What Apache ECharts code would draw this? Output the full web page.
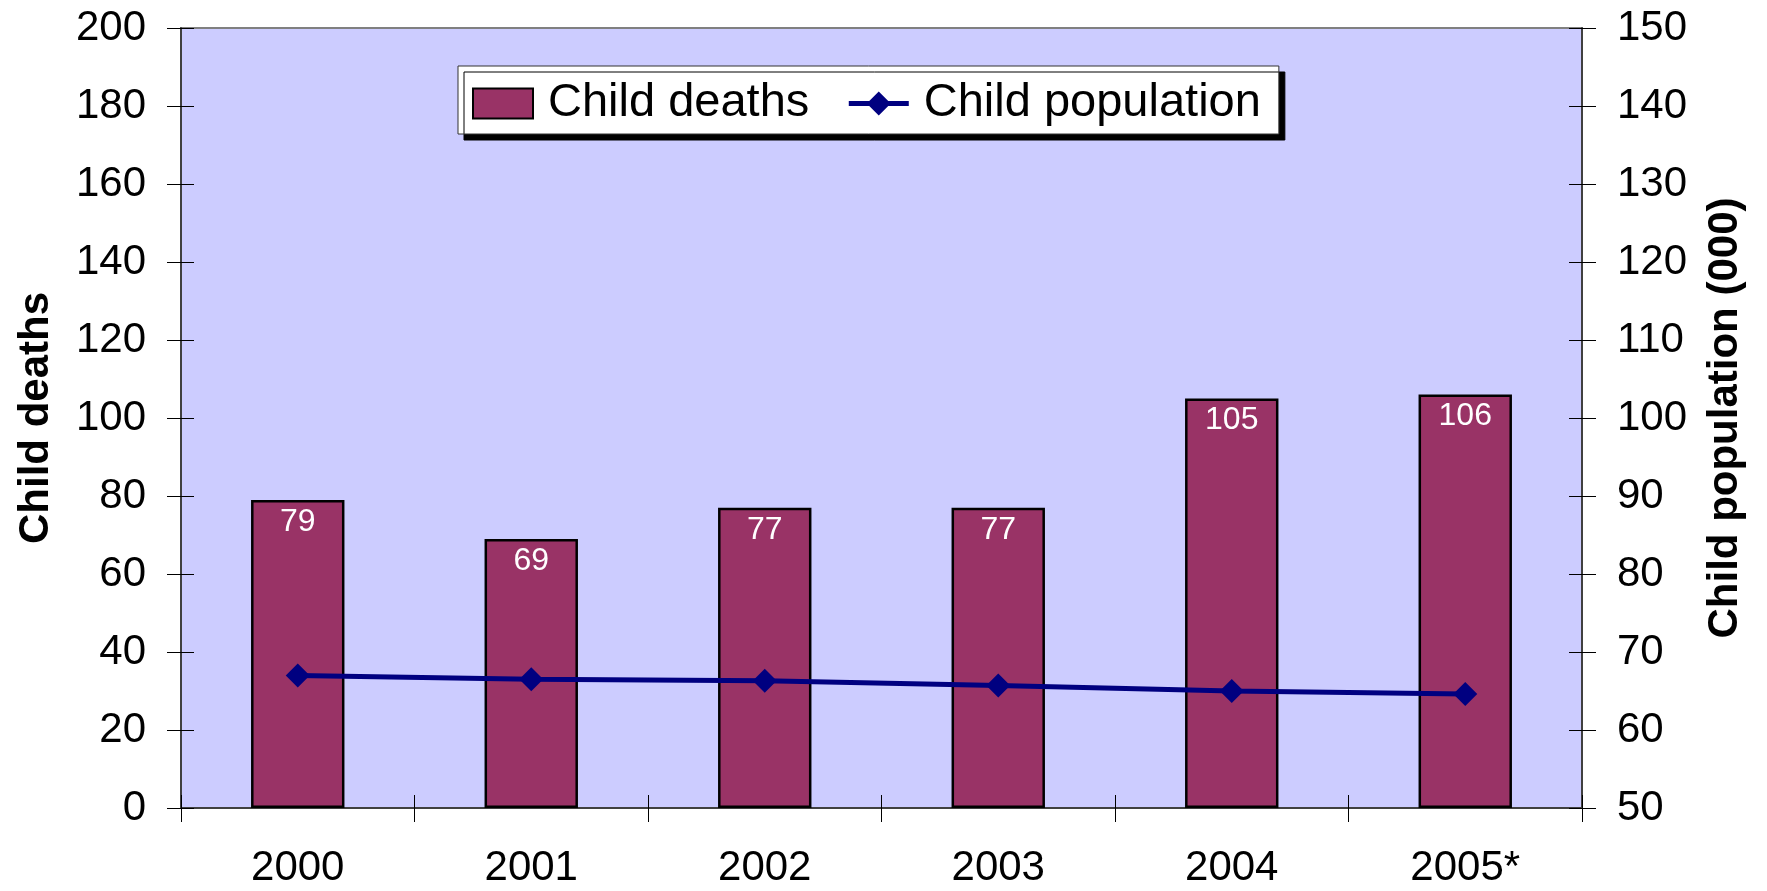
<!DOCTYPE html>
<html>
<head>
<meta charset="utf-8">
<script src="https://cdn.jsdelivr.net/npm/echarts@6/dist/echarts.min.js"></script>
<style>
html,body{margin:0;padding:0;background:#fff;}
#chart{width:1767px;height:891px;}
</style>
</head>
<body>
<div id="chart"></div>
<script>
const years = ['2000', '2001', '2002', '2003', '2004', '2005*'];
const childDeaths = [79, 69, 77, 77, 105, 106];
const childPopulation = [67.0, 66.5, 66.3, 65.7, 65.0, 64.6];
const leftTicks = { min: 0, max: 200, interval: 20 };
const rightTicks = { min: 50, max: 150, interval: 10 };

const FONT = '"Liberation Sans", Arial, sans-serif';
const axisLineColor = '#404040';

const chart = echarts.init(document.getElementById('chart'), null, { renderer: 'canvas' });

const option = {
  backgroundColor: '#ffffff',
  animation: false,
  textStyle: { fontFamily: FONT },
  grid: {
    left: 181, right: 185, top: 28, bottom: 83,
    show: true, backgroundColor: '#CCCCFF', borderColor: '#808080', borderWidth: 2
  },
  legend: {
    left: 458, top: 66,
    padding: [14, 18, 7, 14],
    itemGap: 37,
    itemWidth: 60, itemHeight: 30,
    backgroundColor: '#ffffff',
    borderColor: '#333333', borderWidth: 1,
    shadowColor: '#000000', shadowBlur: 0, shadowOffsetX: 6, shadowOffsetY: 6,
    textStyle: { fontFamily: FONT, fontSize: 47, color: '#000', lineHeight: 46, padding: [0, 0, 0, 10] },
    data: [
      { name: 'Child deaths', icon: 'rect', itemStyle: { color: '#993366', borderColor: '#000', borderWidth: 2 } },
      { name: 'Child population', lineStyle: { color: '#000080', width: 5 }, itemStyle: { color: '#000080' } }
    ]
  },
  xAxis: [
    {
      type: 'category', data: years, position: 'bottom',
      axisLine: { show: true, lineStyle: { color: axisLineColor, width: 2 } },
      axisTick: { show: true, inside: false, length: 14, alignWithLabel: false, lineStyle: { color: '#000', width: 1 } },
      axisLabel: { fontFamily: FONT, fontSize: 42, color: '#000', margin: 39 },
      splitLine: { show: false }
    },
    {
      type: 'category', data: years, position: 'bottom',
      axisLine: { show: false },
      axisTick: { show: true, inside: true, length: 13, lineStyle: { color: '#000', width: 1 } },
      axisLabel: { show: false },
      splitLine: { show: false }
    }
  ],
  yAxis: [
    {
      type: 'value', position: 'left',
      min: leftTicks.min, max: leftTicks.max, interval: leftTicks.interval,
      name: 'Child deaths', nameLocation: 'middle', nameRotate: 90, nameGap: 124,
      nameTextStyle: { fontFamily: FONT, fontSize: 42, fontWeight: 'bold', color: '#000' },
      axisLine: { show: true, lineStyle: { color: axisLineColor, width: 2 } },
      axisTick: { show: true, inside: false, length: 14, lineStyle: { color: '#000', width: 1 } },
      axisLabel: { fontFamily: FONT, fontSize: 42, color: '#000', margin: 35 },
      splitLine: { show: false }
    },
    {
      type: 'value', position: 'right',
      min: rightTicks.min, max: rightTicks.max, interval: rightTicks.interval,
      name: 'Child population (000)', nameLocation: 'middle', nameRotate: 90, nameGap: 122,
      nameTextStyle: { fontFamily: FONT, fontSize: 42, fontWeight: 'bold', color: '#000' },
      axisLine: { show: true, lineStyle: { color: axisLineColor, width: 2 } },
      axisTick: { show: true, inside: false, length: 14, lineStyle: { color: '#000', width: 1 } },
      axisLabel: { fontFamily: FONT, fontSize: 42, color: '#000', margin: 35 },
      splitLine: { show: false }
    },
    {
      type: 'value', position: 'left',
      min: leftTicks.min, max: leftTicks.max, interval: leftTicks.interval,
      axisLine: { show: false },
      axisTick: { show: true, inside: true, length: 13, lineStyle: { color: '#000', width: 1 } },
      axisLabel: { show: false },
      splitLine: { show: false }
    },
    {
      type: 'value', position: 'right',
      min: rightTicks.min, max: rightTicks.max, interval: rightTicks.interval,
      axisLine: { show: false },
      axisTick: { show: true, inside: true, length: 13, lineStyle: { color: '#000', width: 1 } },
      axisLabel: { show: false },
      splitLine: { show: false }
    }
  ],
  series: [
    {
      name: 'Child deaths', type: 'bar',
      xAxisIndex: 0, yAxisIndex: 0,
      data: childDeaths,
      barWidth: '40%',
      itemStyle: { color: '#993366', borderColor: '#000000', borderWidth: 2.5 },
      label: {
        show: true, position: 'insideTop', distance: 6,
        fontFamily: FONT, fontSize: 32, color: '#ffffff'
      },
      z: 2
    },
    {
      name: 'Child population', type: 'line',
      xAxisIndex: 0, yAxisIndex: 1,
      data: childPopulation,
      symbol: 'diamond', symbolSize: 24,
      lineStyle: { color: '#000080', width: 5 },
      itemStyle: { color: '#000080' },
      z: 3
    }
  ]
};

chart.setOption(option);
</script>
</body>
</html>
